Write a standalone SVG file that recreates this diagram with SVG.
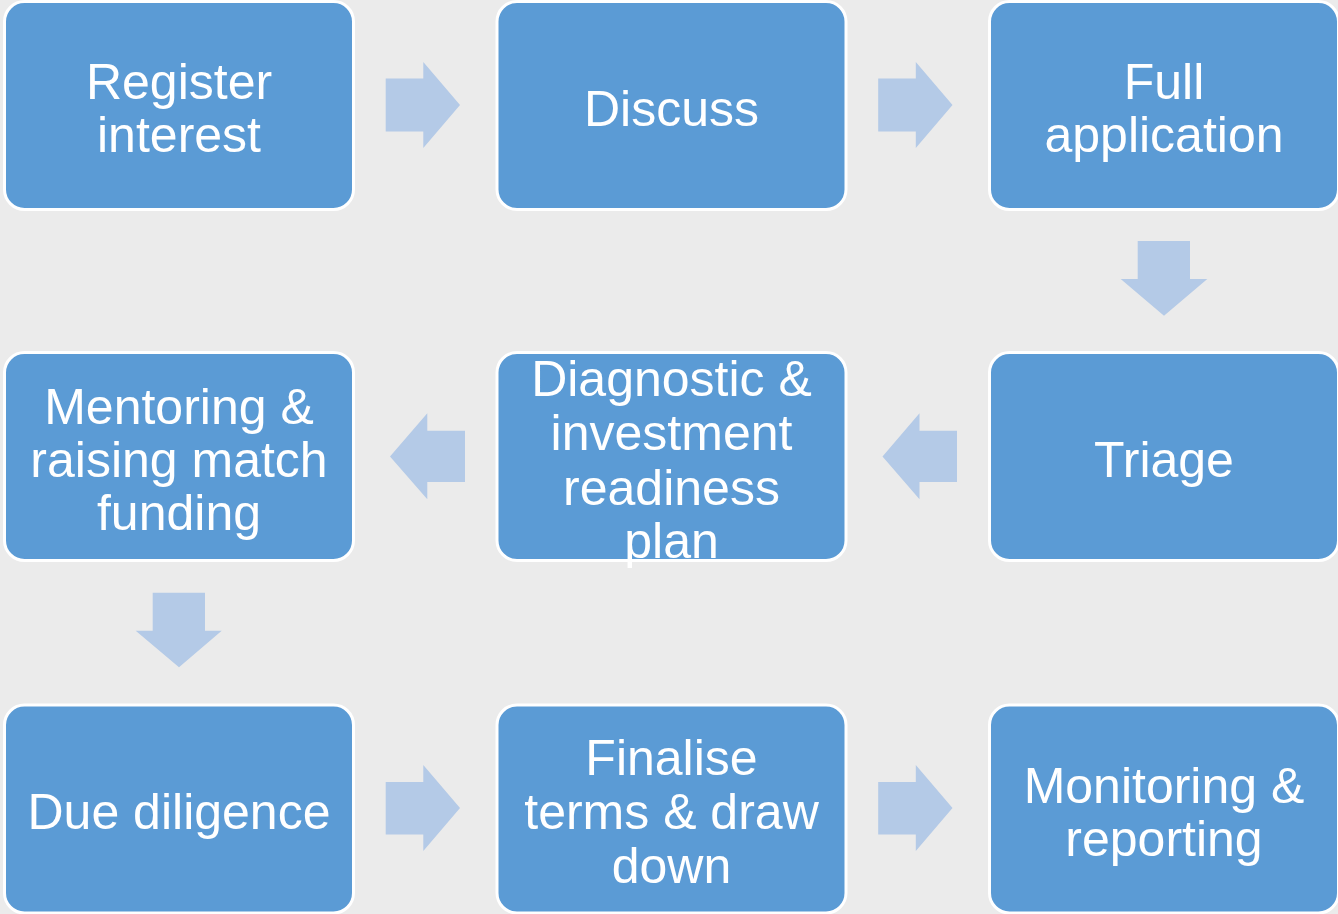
<svg xmlns="http://www.w3.org/2000/svg" width="1338" height="914" viewBox="0 0 1338 914">
<style>
.box{fill:#5B9BD5;stroke:#FFFFFF;stroke-width:3}
.lbl{font-family:"Liberation Sans",Arial,sans-serif;font-size:50px;fill:#FFFFFF;text-anchor:middle}
.arr{fill:#B4CAE7}
</style>
<rect x="0" y="0" width="1338" height="914" fill="#EBEBEB"/>
<g id="connectors">
<polygon class="arr" points="385.7,78.5 423.3,78.5 423.3,62 460,105 423.3,148 423.3,131.5 385.7,131.5"/>
<polygon class="arr" points="878.2,78.5 915.8,78.5 915.8,62 952.5,105 915.8,148 915.8,131.5 878.2,131.5"/>
<polygon class="arr" points="1137.7,241 1190,241 1190,279 1207.3,279 1164,315.7 1120.7,279 1137.7,279"/>
<polygon class="arr" points="957,430.7 919.5,430.7 919.5,413.3 882.5,456.5 919.5,499.3 919.5,482 957,482"/>
<polygon class="arr" points="465,430.7 427.3,430.7 427.3,413.3 390,456.5 427.3,499.3 427.3,482 465,482"/>
<polygon class="arr" points="152.7,592.7 205,592.7 205,630.7 221.7,630.7 179,667.3 135.7,630.7 152.7,630.7"/>
<polygon class="arr" points="385.7,782 423.3,782 423.3,765 460,808 423.3,851 423.3,834.5 385.7,834.5"/>
<polygon class="arr" points="878.2,782 915.8,782 915.8,765 952.5,808 915.8,851 915.8,834.5 878.2,834.5"/>
</g>
<g id="register">
<rect class="box" x="4.5" y="1.5" width="349" height="208" rx="20"/>
<text class="lbl" x="179" y="98.5">Register</text>
<text class="lbl" x="179" y="152">interest</text>
</g>
<g id="discuss">
<rect class="box" x="497" y="1.5" width="349" height="208" rx="20"/>
<text class="lbl" x="671.5" y="126">Discuss</text>
</g>
<g id="full-application">
<rect class="box" x="989.5" y="1.5" width="349" height="208" rx="20"/>
<text class="lbl" x="1164" y="99">Full</text>
<text class="lbl" x="1164" y="152">application</text>
</g>
<g id="mentoring">
<rect class="box" x="4.5" y="352.5" width="349" height="208" rx="20"/>
<text class="lbl" x="179" y="423.5">Mentoring &amp;</text>
<text class="lbl" x="179" y="477">raising match</text>
<text class="lbl" x="179" y="530">funding</text>
</g>
<g id="diagnostic">
<rect class="box" x="497" y="352.5" width="349" height="208" rx="20"/>
<text class="lbl" x="671.5" y="395.5">Diagnostic &amp;</text>
<text class="lbl" x="671.5" y="450">investment</text>
<text class="lbl" x="671.5" y="504.5">readiness</text>
<text class="lbl" x="671.5" y="558">plan</text>
</g>
<g id="triage">
<rect class="box" x="989.5" y="352.5" width="349" height="208" rx="20"/>
<text class="lbl" x="1164" y="477">Triage</text>
</g>
<g id="due-diligence">
<rect class="box" x="4.5" y="705" width="349" height="208" rx="20"/>
<text class="lbl" x="179" y="829">Due diligence</text>
</g>
<g id="finalise">
<rect class="box" x="497" y="705" width="349" height="208" rx="20"/>
<text class="lbl" x="671.5" y="775">Finalise</text>
<text class="lbl" x="671.5" y="828.5">terms &amp; draw</text>
<text class="lbl" x="671.5" y="883">down</text>
</g>
<g id="monitoring">
<rect class="box" x="989.5" y="705" width="349" height="208" rx="20"/>
<text class="lbl" x="1164" y="802.5">Monitoring &amp;</text>
<text class="lbl" x="1164" y="856">reporting</text>
</g>
</svg>
